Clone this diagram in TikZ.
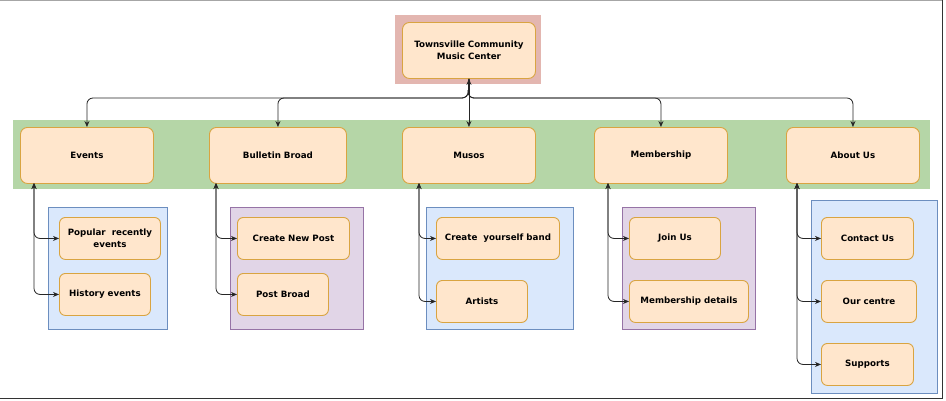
\documentclass[tikz,border=0pt]{standalone}
\usepackage{fontspec}
\setmainfont{DejaVu Sans}
\usetikzlibrary{arrows.meta}
\definecolor{boxfill}{HTML}{FFE6CC}
\definecolor{boxline}{HTML}{D9A441}
\definecolor{pinkbg}{HTML}{E3B6B0}
\definecolor{greenbg}{HTML}{B5D6A7}
\definecolor{bluebg}{HTML}{DAE8FC}
\definecolor{blueline}{HTML}{6C8EBF}
\definecolor{purplebg}{HTML}{E1D5E7}
\definecolor{purpleline}{HTML}{9673A6}
\tikzset{
  box/.style={draw=boxline, fill=boxfill, line width=0.9pt, rounded corners=7pt,
    font=\fontsize{8.7}{12}\selectfont\bfseries, align=center, inner sep=0pt, anchor=north west},
  big/.style={box, minimum width=133pt, minimum height=56pt},
  small/.style={box, rounded corners=6pt, minimum height=42pt},
  conn/.style={draw=black!85, line width=0.8pt, {Stealth[length=6pt,width=5pt]}-{Stealth[length=6pt,width=5pt]}, rounded corners=6pt},
  down/.style={draw=black!85, line width=0.8pt, -{Stealth[length=6pt,width=5pt]}, rounded corners=6pt},
}
\begin{document}
\begin{tikzpicture}[x=1pt,y=-1pt]
\useasboundingbox (0,0) rectangle (946,400);
% frame
\draw[gray!70, line width=1pt] (0,0.5) -- (943,0.5);
\draw[black!80, line width=1pt] (942.5,0) -- (942.5,398.5) -- (0,398.5);
% backgrounds
\fill[pinkbg] (395,15) rectangle (541,84);
\fill[greenbg] (13,120) rectangle (930,189);
\draw[blueline, fill=bluebg, line width=0.7pt] (48,207) rectangle (167,329);
\draw[purpleline, fill=purplebg, line width=0.7pt] (230,207) rectangle (363,329);
\draw[blueline, fill=bluebg, line width=0.7pt] (426,207) rectangle (573,329);
\draw[purpleline, fill=purplebg, line width=0.7pt] (622,207) rectangle (755,329);
\draw[blueline, fill=bluebg, line width=0.7pt] (811,200) rectangle (937,393);
% nodes
\node[big] (top) at (402,22) {Townsville Community\\Music Center};
\node[big] (ev) at (20,127) {Events};
\node[big, minimum width=137pt] (bb) at (209,127) {Bulletin Broad};
\node[big] (mu) at (402,127) {Musos};
\node[big] (me) at (594,127) {Membership};
\node[big] (ab) at (786,127) {About Us};
\node[small, minimum width=101pt] (pop) at (59,217) {Popular\ \ recently\\events};
\node[small, minimum width=91pt] (his) at (59,273) {History events};
\node[small, minimum width=112pt] (cnp) at (237,217) {Create New Post};
\node[small, minimum width=91pt] (pb) at (237,273) {Post Broad};
\node[small, minimum width=123pt] (cyb) at (436,217) {Create\ \ yourself band};
\node[small, minimum width=91pt] (art) at (436,280) {Artists};
\node[small, minimum width=91pt] (ju) at (629,217) {Join Us};
\node[small, minimum width=119pt] (md) at (629,280) {Membership details};
\node[small, minimum width=92pt] (cu) at (821,217) {Contact Us};
\node[small, minimum width=95pt] (oc) at (821,280) {Our centre};
\node[small, minimum width=92pt] (su) at (821,343) {Supports};
% bus
\coordinate (bus) at (468,98);
\draw[down] (top.south) -- (bus) -| (ev.north);
\draw[down] (top.south) -- (bus) -| (bb.north);
\draw[down] (top.south) -- (bus) -| (me.north);
\draw[down] (top.south) -- (bus) -| (ab.north);
\draw[conn] (top.south) -- (mu.north);
% child connectors
\coordinate (evs) at (34,183);
\coordinate (bbs) at (216,183);
\coordinate (mus) at (419,183);
\coordinate (mes) at (608,183);
\coordinate (abs) at (797,183);
\draw[conn] (evs) |- (pop.west);
\draw[conn] (evs) |- (his.west);
\draw[conn] (bbs) |- (cnp.west);
\draw[conn] (bbs) |- (pb.west);
\draw[conn] (mus) |- (cyb.west);
\draw[conn] (mus) |- (art.west);
\draw[conn] (mes) |- (ju.west);
\draw[conn] (mes) |- (md.west);
\draw[conn] (abs) |- (cu.west);
\draw[conn] (abs) |- (oc.west);
\draw[conn] (abs) |- (su.west);
\end{tikzpicture}
\end{document}
